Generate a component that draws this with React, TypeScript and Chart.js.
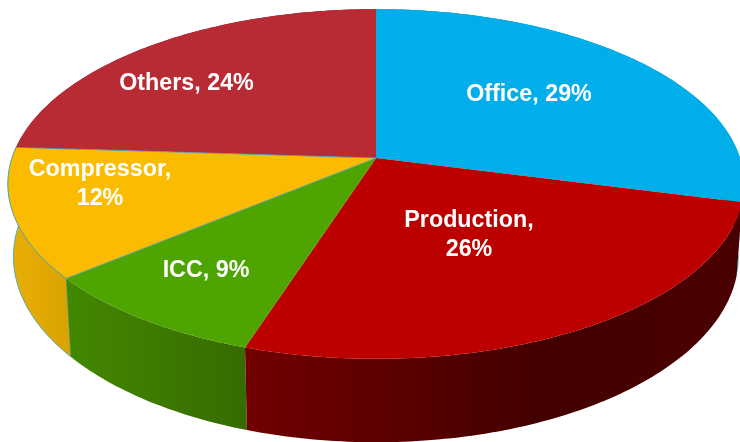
import React, { useEffect, useRef } from "react";
import { Chart, registerables } from "chart.js";

Chart.register(...registerables);

const categories = ["Office", "Production", "ICC", "Compressor", "Others"];
const shares = [29, 26, 9, 12, 24];
const topColors = ["#00AEEA", "#BC0000", "#4EA400", "#FBBC00", "#B82B35"];
const wallFrom = ["#0085B5", "#720000", "#438800", "#E6AE04", "#7A1A20"];
const wallTo = ["#0085B5", "#430000", "#366C00", "#DBA300", "#7A1A20"];
const labelLines = [["Office, 29%"], ["Production,", "26%"], ["ICC, 9%"], ["Compressor,", "12%"], ["Others, 24%"]];

const CX = 376, CY = 158, A = 364, B = 171, K = 0.1486, DEPTH = 71, LOWER_X = 0.985;
const LABEL_AT: [number, number][] = [[529, 95], [469, 235], [206, 271], [100, 184], [186.5, 84]];

function project(angle: number, depth: number): [number, number] {
  const X = Math.cos(angle), Y = Math.sin(angle);
  const w = 1 - K * Y;
  const sx = depth > 0 ? LOWER_X : 1;
  return [CX + (A * X * sx) / w, CY + (B * Y + depth) / w];
}

function rim(ctx: CanvasRenderingContext2D, from: number, to: number, depth: number, first: boolean) {
  const n = Math.max(2, Math.ceil(Math.abs(to - from) * 60));
  for (let i = 0; i <= n; i++) {
    const [x, y] = project(from + ((to - from) * i) / n, depth);
    if (i === 0 && first) ctx.moveTo(x, y);
    else ctx.lineTo(x, y);
  }
}

const pie3d = {
  id: "pie3d",
  beforeDatasetsDraw(chart: any) {
    const ctx: CanvasRenderingContext2D = chart.ctx;
    const arcs = chart.getDatasetMeta(0).data;
    ctx.save();
    // side walls
    [4, 0, 3, 2, 1].forEach((i) => {
      const a = arcs[i];
      const p0 = project(a.startAngle, 0), p1 = project(a.endAngle, 0);
      const left = i === 1 ? p1[0] : Math.min(p0[0], p1[0]);
      const right = Math.max(p0[0], p1[0]);
      const g = ctx.createLinearGradient(left, 0, right, 0);
      g.addColorStop(0, wallFrom[i]);
      g.addColorStop(i === 1 ? 0.6 : 1, wallTo[i]);
      if (i === 1) g.addColorStop(1, "#4A0000");
      ctx.beginPath();
      rim(ctx, a.startAngle, a.endAngle, 0, true);
      rim(ctx, a.endAngle, a.startAngle, DEPTH, false);
      ctx.closePath();
      ctx.fillStyle = g;
      ctx.fill();
      if (i === 3) {
        ctx.strokeStyle = "rgba(70,165,190,0.9)";
        ctx.lineWidth = 1;
        ctx.stroke();
      }
    });
    // top faces
    arcs.forEach((a: any) => {
      ctx.beginPath();
      ctx.moveTo(CX, CY);
      rim(ctx, a.startAngle, a.endAngle, 0, false);
      ctx.closePath();
      ctx.fillStyle = a.options.backgroundColor;
      ctx.fill();
    });
    // thin seam around the compressor slice
    ctx.strokeStyle = "rgba(70,160,185,0.75)";
    ctx.lineWidth = 1;
    const c = arcs[3];
    ctx.beginPath();
    ctx.moveTo(CX, CY);
    rim(ctx, c.startAngle, c.endAngle, 0, false);
    ctx.closePath();
    ctx.stroke();
    // labels
    ctx.fillStyle = "#FFFFFF";
    ctx.font = 'bold 23.3px "Liberation Sans", Arial, sans-serif';
    ctx.textAlign = "center";
    ctx.textBaseline = "middle";
    (ctx as any).filter = "blur(0.4px)";
    labelLines.forEach((lines, i) => {
      const [lx, ly] = LABEL_AT[i];
      lines.forEach((t, j) => {
        ctx.fillText(t, lx, ly + (j - (lines.length - 1) / 2) * 29);
      });
    });
    ctx.restore();
    return false;
  },
};

export default function App() {
  const ref = useRef<HTMLCanvasElement>(null);
  useEffect(() => {
    const chart = new Chart(ref.current as HTMLCanvasElement, {
      type: "pie",
      data: {
        labels: categories,
        datasets: [{ data: shares, backgroundColor: topColors, borderWidth: 0 }],
      },
      options: {
        animation: false,
        responsive: false,
        events: [],
        plugins: { legend: { display: false }, tooltip: { enabled: false } },
      },
      plugins: [pie3d],
    } as any);
    return () => chart.destroy();
  }, []);
  return (
    <div style={{ position: "absolute", left: 0, top: 0, width: 740, height: 442, background: "#fff", overflow: "hidden" }}>
      <canvas ref={ref} width={740} height={442} style={{ display: "block" }} />
    </div>
  );
}
